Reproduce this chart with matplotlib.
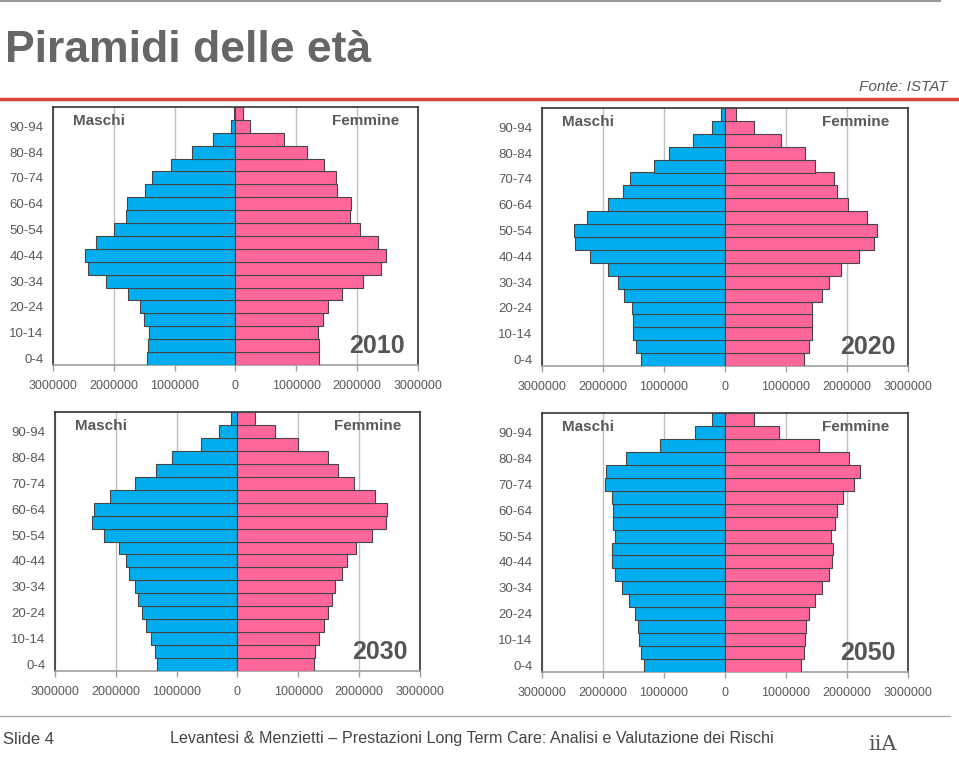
import matplotlib
matplotlib.use('Agg')
import matplotlib.pyplot as plt
from matplotlib.ticker import FuncFormatter

plt.rcParams['font.family'] = ['Liberation Sans', 'DejaVu Sans']

ages = ['0-4', '5-9', '10-14', '15-19', '20-24', '25-29', '30-34', '35-39', '40-44', '45-49',
        '50-54', '55-59', '60-64', '65-69', '70-74', '75-79', '80-84', '85-89', '90-94', '95-99']

# milioni di persone, dalla classe 0-4 alla 95-99
maschi_2010 = [1.45, 1.44, 1.43, 1.51, 1.57, 1.77, 2.13, 2.42, 2.48, 2.30,
               1.99, 1.80, 1.78, 1.48, 1.38, 1.06, 0.71, 0.37, 0.08, 0.03]
femmine_2010 = [1.37, 1.37, 1.35, 1.44, 1.52, 1.75, 2.10, 2.39, 2.47, 2.34,
                2.04, 1.89, 1.90, 1.67, 1.65, 1.46, 1.18, 0.79, 0.24, 0.12]

maschi_2020 = [1.38, 1.46, 1.51, 1.51, 1.52, 1.66, 1.76, 1.92, 2.22, 2.46,
               2.47, 2.26, 1.91, 1.68, 1.55, 1.17, 0.91, 0.52, 0.21, 0.06]
femmine_2020 = [1.29, 1.37, 1.42, 1.42, 1.43, 1.59, 1.71, 1.90, 2.19, 2.45,
                2.49, 2.33, 2.02, 1.84, 1.79, 1.48, 1.31, 0.91, 0.48, 0.18]

maschi_2030 = [1.32, 1.36, 1.42, 1.51, 1.57, 1.64, 1.68, 1.79, 1.83, 1.94,
               2.19, 2.39, 2.36, 2.10, 1.68, 1.34, 1.07, 0.60, 0.30, 0.10]
femmine_2030 = [1.25, 1.28, 1.34, 1.42, 1.49, 1.56, 1.61, 1.72, 1.80, 1.95,
                2.21, 2.44, 2.45, 2.26, 1.91, 1.66, 1.48, 1.00, 0.61, 0.28]

maschi_2050 = [1.33, 1.38, 1.41, 1.43, 1.47, 1.57, 1.69, 1.81, 1.86, 1.85,
               1.80, 1.84, 1.83, 1.86, 1.97, 1.95, 1.63, 1.06, 0.50, 0.21]
femmine_2050 = [1.25, 1.29, 1.31, 1.32, 1.37, 1.48, 1.59, 1.70, 1.76, 1.77,
                1.74, 1.80, 1.84, 1.93, 2.12, 2.21, 2.03, 1.54, 0.88, 0.48]

anni = ['2010', '2020', '2030', '2050']
maschi = [maschi_2010, maschi_2020, maschi_2030, maschi_2050]
femmine = [femmine_2010, femmine_2020, femmine_2030, femmine_2050]
x_ticks = [-3000000, -2000000, -1000000, 0, 1000000, 2000000, 3000000]

W, H = 959, 767
# riquadri degli assi in pixel: x0, y0, x1, y1
boxes = [(53, 107, 418, 365), (542, 108, 908, 366),
         (55, 412, 420, 671), (542, 413, 908, 672)]

BLUE = '#00AEEF'
PINK = '#FF6699'
EDGE = '#454545'
TXT = '#595959'

fig = plt.figure(figsize=(W / 100, H / 100), dpi=100)


def rect(b):
    x0, y0, x1, y1 = b
    return [x0 / W, 1 - y1 / H, (x1 - x0) / W, (y1 - y0) / H]


for i in range(4):
    ax = fig.add_axes(rect(boxes[i]))
    y = list(range(len(ages)))
    m = [-v * 1e6 for v in maschi[i]]
    f = [v * 1e6 for v in femmine[i]]
    ax.barh(y, m, height=1.0, color=BLUE, edgecolor=EDGE, linewidth=0.8, zorder=3)
    ax.barh(y, f, height=1.0, color=PINK, edgecolor=EDGE, linewidth=0.8, zorder=3)
    ax.set_xlim(-3000000, 3000000)
    ax.set_ylim(-0.5, len(ages) - 0.5)
    ax.set_xticks(x_ticks)
    ax.xaxis.set_major_formatter(FuncFormatter(lambda v, p: '%d' % abs(v)))
    ax.set_yticks(y[::2])
    ax.set_yticklabels(ages[::2])
    ax.grid(axis='x', color='#c0c0c0', linewidth=1.0, zorder=0)
    ax.tick_params(axis='y', length=0, pad=7, labelsize=9.5, labelcolor=TXT)
    ax.tick_params(axis='x', length=4, width=1, color='#a0a0a0', pad=7,
                   labelsize=9, labelcolor=TXT)
    for s in ['left', 'top', 'right']:
        ax.spines[s].set_color('#333333')
        ax.spines[s].set_linewidth(1.2)
    ax.spines['bottom'].set_color('#a0a0a0')
    ax.spines['bottom'].set_linewidth(1.2)
    ax.text(0.055, 0.945, 'Maschi', transform=ax.transAxes, ha='left', va='center',
            fontsize=11, fontweight='bold', color=TXT)
    ax.text(0.95, 0.945, 'Femmine', transform=ax.transAxes, ha='right', va='center',
            fontsize=11, fontweight='bold', color=TXT)
    ax.text(0.965, 0.075, anni[i], transform=ax.transAxes, ha='right', va='center',
            fontsize=18, fontweight='bold', color='#555555')

# intestazione e piè di pagina della slide
fig.add_artist(plt.Line2D([0, 940 / W], [1 - 1 / H, 1 - 1 / H], color='#999999', lw=1.5))
fig.text(5 / W, 1 - 50 / H, 'Piramidi delle età', ha='left', va='center',
         fontsize=32, fontweight='bold', color='#666666')
fig.text(948 / W, 1 - 87 / H, 'Fonte: ISTAT', ha='right', va='center',
         fontsize=11, style='italic', color='#595959')
fig.add_artist(plt.Line2D([0, 1], [1 - 99 / H, 1 - 99 / H], color='#d9453b', lw=2.5))

fig.add_artist(plt.Line2D([0, 950 / W], [1 - 716 / H, 1 - 716 / H], color='#aaaaaa', lw=1))
fig.text(3 / W, 1 - 739 / H, 'Slide 4', ha='left', va='center', fontsize=12, color='#444444')
fig.text(170 / W, 1 - 739 / H,
         'Levantesi & Menzietti \u2013 Prestazioni Long Term Care: Analisi e Valutazione dei Rischi',
         ha='left', va='center', fontsize=11.6, color='#444444')
fig.text(868 / W, 1 - 745 / H, 'iiA', ha='left', va='center', fontsize=15,
         color='#555555', family='DejaVu Serif')

fig.savefig('out.png', dpi=100)
